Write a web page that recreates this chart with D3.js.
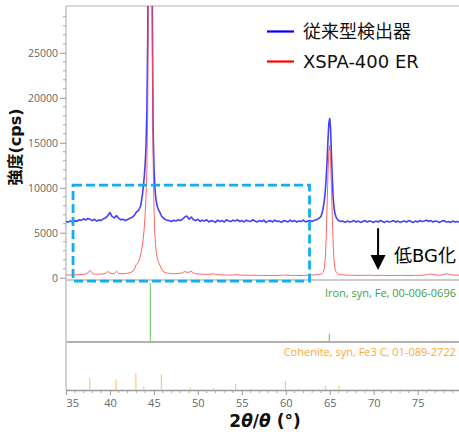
<!DOCTYPE html>
<html><head><meta charset="utf-8">
<script src="https://cdn.jsdelivr.net/npm/d3@7"></script>
<style>
body{margin:0;background:#fff;}
svg{display:block;}
</style></head>
<body>
<svg id="c" width="459" height="432"></svg>
<script>
// ---------------- DATA ----------------
const angleGrid = [].concat(
  d3.range(35, 43.5, 0.25), d3.range(43.5, 45.95, 0.1),
  d3.range(46, 63.9, 0.25), d3.range(64, 65.95, 0.1),
  d3.range(66, 80.01, 0.25)).map(v => +v.toFixed(2));

const conventionalCps = [
  // 35.00 - 43.25
  6250,6180,6320,6200,6350,6280,6450,6380,6550,6420,
  6600,6480,6350,6500,6300,6420,6380,6550,6650,6900,
  7250,6800,6650,6900,6600,6450,6500,6350,6480,6600,
  6700,6900,7300,7500,
  // 43.5 - 45.9
  8000,8600,9300,10200,11200,12500,14500,18500,27000,45000,
  80000,110000,75000,33000,17000,12500,10200,9000,8300,7900,
  7600,7400,7200,7000,6800,
  // 46.0 - 63.75
  6700,6500,6400,6350,6250,6400,6300,6450,
  6350,6500,6750,6850,6500,6750,6450,6350,
  6500,6250,6400,6300,6450,6200,6350,6300,
  6150,6400,6250,6350,6200,6450,6300,6250,
  6400,6300,6450,6250,6350,6200,6400,6300,
  6250,6450,6300,6200,6350,6250,6400,6150,
  6300,6350,6200,6400,6250,6300,6150,6350,
  6300,6200,6400,6250,6350,6200,6300,6250,
  6400,6200,6300,6350,6250,6400,6450,6600,
  // 64.0 - 65.9
  6800,7100,7500,8000,8700,9700,11200,13000,15300,17200,
  17700,16500,13500,10800,8800,7700,7100,6800,6600,6450,
  // 66.0 - 80.0
  6350,6250,6300,6150,6300,6200,6250,6350,
  6200,6300,6150,6250,6350,6200,6300,6250,
  6150,6300,6200,6350,6250,6150,6300,6200,
  6250,6350,6200,6300,6150,6250,6300,6200,
  6350,6250,6150,6300,6200,6350,6250,6300,
  6400,6250,6350,6200,6300,6250,6150,6300,
  6350,6200,6250,6150,6300,6200,6250,6150,
  6250
];

const xspaCps = [
  // 35.00 - 43.25
  320,300,310,300,320,330,340,360,380,420,
  550,850,480,400,390,400,410,420,460,700,
  520,450,480,720,480,440,450,470,500,560,
  650,850,1500,1700,
  // 43.5 - 45.9
  2600,3100,3600,4500,5500,7000,9000,12000,19000,38000,
  75000,100000,65000,30000,14000,8000,5000,3500,2600,2100,
  1800,1550,1350,1100,900,
  // 46.0 - 63.75
  750,600,520,480,450,440,460,480,
  500,550,700,600,620,720,520,450,
  420,400,390,380,370,380,400,450,
  380,340,330,320,310,300,300,290,
  300,330,350,310,290,280,280,270,
  280,290,270,260,260,250,260,250,
  260,250,250,240,250,260,270,290,
  310,280,260,250,250,260,250,250,
  260,270,280,290,300,320,340,370,
  // 64.0 - 65.9
  400,450,550,750,1200,2200,4500,8000,11500,14000,
  14700,13000,10000,6500,3500,1800,1000,700,550,450,
  // 66.0 - 80.0
  400,350,320,300,290,280,280,270,
  270,260,260,270,260,270,290,270,
  260,250,260,270,280,260,250,250,
  260,250,250,260,270,260,250,250,
  260,250,260,270,260,270,280,300,
  330,380,420,360,320,300,290,310,
  380,450,400,340,310,300,290,300,
  290
];

const seriesNames = ["従来型検出器", "XSPA-400 ER"];
const seriesColors = ["#1f1fff", "#ff4a4a"];

const ironAngles = [44.6, 64.95];
const ironIntensity = [100, 14];
const ironLabel = "Iron, syn, Fe, 00-006-0696";

const cohAngles = [37.7, 40.7, 42.95, 43.85, 45.85, 48.6, 49.15, 51.8, 54.3, 56.1, 59.95, 61.4, 64.5, 66.05, 69.2, 70.8, 73.1, 76.3, 78.1];
const cohIntensity = [70, 62, 100, 20, 93, 5, 15, 10, 35, 6, 55, 8, 25, 25, 5, 5, 5, 6, 5];
const cohLabel = "Cohenite, syn, Fe3 C, 01-089-2722";

const yTicks = [0, 5000, 10000, 15000, 20000, 25000];
const xTicks = [35, 40, 45, 50, 55, 60, 65, 70, 75];

const boxAngles = [35.8, 62.7];
const boxCps = [-370, 10300];
const arrowAngle = 70.5;
const arrowCps = [5500, 850];
const annotText = "低BG化";

// ---------------- LAYOUT ----------------
const svg = d3.select("#c");
const L = 66, R = 461.6;
const mainTop = 6, mainBot = 280, ironBot = 342, cohBot = 390;

const x = d3.scaleLinear().domain([35, 80]).range([L, R]);
const y = d3.scaleLinear().domain([-250, 30200]).range([mainBot, mainTop]);
const yIron = d3.scaleLinear().domain([0, 100]).range([ironBot, ironBot - 59]);
const yCoh = d3.scaleLinear().domain([0, 100]).range([cohBot, cohBot - 17]);

const tickFont = "'Open Sans', sans-serif";
const gray = "#999";

svg.append("defs").append("clipPath").attr("id", "mainClip")
  .append("rect").attr("x", L).attr("y", mainTop).attr("width", 459 - L).attr("height", mainBot - mainTop);

// frame lines
svg.append("line").attr("x1", L).attr("x2", 459).attr("y1", mainTop).attr("y2", mainTop)
  .attr("stroke", "#ccc").attr("stroke-width", 1.5);
svg.append("line").attr("x1", L).attr("x2", 459).attr("y1", mainBot).attr("y2", mainBot)
  .attr("stroke", "#bbb").attr("stroke-width", 1.5);
svg.append("line").attr("x1", L).attr("x2", 459).attr("y1", ironBot).attr("y2", ironBot)
  .attr("stroke", gray).attr("stroke-width", 1.5);
svg.append("line").attr("x1", L).attr("x2", L).attr("y1", mainTop).attr("y2", cohBot)
  .attr("stroke", "#c4c4c4").attr("stroke-width", 1.5);

// y axis
const yAxis = svg.append("g").attr("transform", `translate(${L},0)`)
  .call(d3.axisLeft(y).tickValues(yTicks).tickSize(6).tickSizeOuter(0).tickPadding(2).tickFormat(d3.format("d")));
yAxis.select(".domain").remove();
yAxis.selectAll(".tick line").attr("stroke", gray);
yAxis.selectAll(".tick text").attr("fill", "#666").style("font-family", tickFont).style("font-size", "10.5px");
const yMinor = d3.range(0, 30001, 1000).filter(v => v % 5000 !== 0);
svg.append("g").selectAll("line").data(yMinor).join("line")
  .attr("x1", L - 3).attr("x2", L).attr("y1", d => y(d)).attr("y2", d => y(d))
  .attr("stroke", "#aaa");

// x axis
const xAxis = svg.append("g").attr("transform", `translate(0,${cohBot})`)
  .call(d3.axisBottom(x).tickValues(xTicks).tickSize(5).tickSizeOuter(0).tickPadding(4));
xAxis.select(".domain").attr("stroke", gray).attr("stroke-width", 1.5);
xAxis.selectAll(".tick line").attr("stroke", gray);
xAxis.selectAll(".tick text").attr("fill", "#666").style("font-family", tickFont).style("font-size", "11px")
  .attr("text-anchor", d => d === 35 ? "start" : "middle");
svg.append("g").selectAll("line").data(d3.range(36, 80, 1).filter(v => v % 5 !== 0)).join("line")
  .attr("x1", d => x(d)).attr("x2", d => x(d)).attr("y1", cohBot).attr("y2", cohBot + 3)
  .attr("stroke", "#aaa");

// spectra
const pts = k => angleGrid.map((a, i) => [a, k[i]]).filter(p => p[1] !== undefined);
const line = d3.line().x(d => x(d[0])).y(d => y(d[1]));
const plot = svg.append("g").attr("clip-path", "url(#mainClip)");
[conventionalCps, xspaCps].forEach((s, i) => {
  plot.append("path").attr("d", line(pts(s))).attr("fill", "none")
    .attr("stroke", seriesColors[i]).attr("stroke-width", i === 0 ? 1.6 : 1)
    .attr("stroke-opacity", i === 0 ? 0.85 : 0.85).attr("stroke-linejoin", "round");
});

// dashed box
svg.append("rect")
  .attr("x", x(boxAngles[0])).attr("y", y(boxCps[1]))
  .attr("width", x(boxAngles[1]) - x(boxAngles[0])).attr("height", y(boxCps[0]) - y(boxCps[1]))
  .attr("fill", "none").attr("stroke", "#12aef0").attr("stroke-width", 2.8)
  .attr("stroke-dasharray", "9,4");

// arrow
const ax = x(arrowAngle), ay0 = y(arrowCps[0]), ay1 = y(arrowCps[1]);
svg.append("line").attr("x1", ax).attr("x2", ax).attr("y1", ay0).attr("y2", ay1 - 12)
  .attr("stroke", "#000").attr("stroke-width", 2);
svg.append("path").attr("d", `M${ax - 7.5},${ay1 - 15}L${ax + 7.5},${ay1 - 15}L${ax},${ay1}Z`).attr("fill", "#000");
svg.append("text").attr("x", ax + 16).attr("y", y(2500) + 6.5).text(annotText)
  .style("font-family", "'DejaVu Sans','Noto Sans CJK JP',sans-serif").style("font-size", "18px").attr("fill", "#000");

// legend
seriesNames.forEach((n, i) => {
  const ly = 31.5 + i * 30;
  svg.append("line").attr("x1", 267).attr("x2", 294).attr("y1", ly).attr("y2", ly)
    .attr("stroke", i === 0 ? "#0000ff" : "#ff0000").attr("stroke-width", 2.2);
  svg.append("text").attr("x", 303).attr("y", ly + 6.5).text(n)
    .style("font-family", "'DejaVu Sans','Noto Sans CJK JP',sans-serif").style("font-size", "18px").attr("fill", "#111");
});

// iron panel
svg.append("g").selectAll("line").data(ironAngles).join("line")
  .attr("x1", d => x(d)).attr("x2", d => x(d))
  .attr("y1", ironBot).attr("y2", (d, i) => yIron(ironIntensity[i]))
  .attr("stroke", "#7fcc7f").attr("stroke-width", 1.2);
svg.append("text").attr("x", 456).attr("y", 297).attr("text-anchor", "end").text(ironLabel)
  .style("font-family", tickFont).style("font-size", "11px").attr("fill", "#3f9f3f");

// cohenite panel
svg.append("g").selectAll("line").data(cohAngles).join("line")
  .attr("x1", d => x(d)).attr("x2", d => x(d))
  .attr("y1", cohBot).attr("y2", (d, i) => yCoh(cohIntensity[i]))
  .attr("stroke", "#ffc45e").attr("stroke-width", 1.1);
svg.append("text").attr("x", 456).attr("y", 356).attr("text-anchor", "end").text(cohLabel)
  .style("font-family", tickFont).style("font-size", "11px").attr("fill", "#ffa733");

// axis titles
const yt = svg.append("text").attr("transform", "translate(21,147) rotate(-90)").attr("text-anchor", "middle")
  .style("font-family", "'DejaVu Sans','Noto Sans CJK JP',sans-serif").style("font-size", "16px").style("font-weight", "bold")
  .attr("fill", "#111").text("強度(cps)");
const xt = svg.append("text").attr("x", 265).attr("y", 427).attr("text-anchor", "middle")
  .style("font-family", "'DejaVu Sans',sans-serif").style("font-size", "17px").style("font-weight", "bold").attr("fill", "#111");
xt.append("tspan").text("2");
xt.append("tspan").style("font-style", "italic").text("θ");
xt.append("tspan").text("/");
xt.append("tspan").style("font-style", "italic").text("θ");
xt.append("tspan").text(" (°)");
</script>
</body></html>
